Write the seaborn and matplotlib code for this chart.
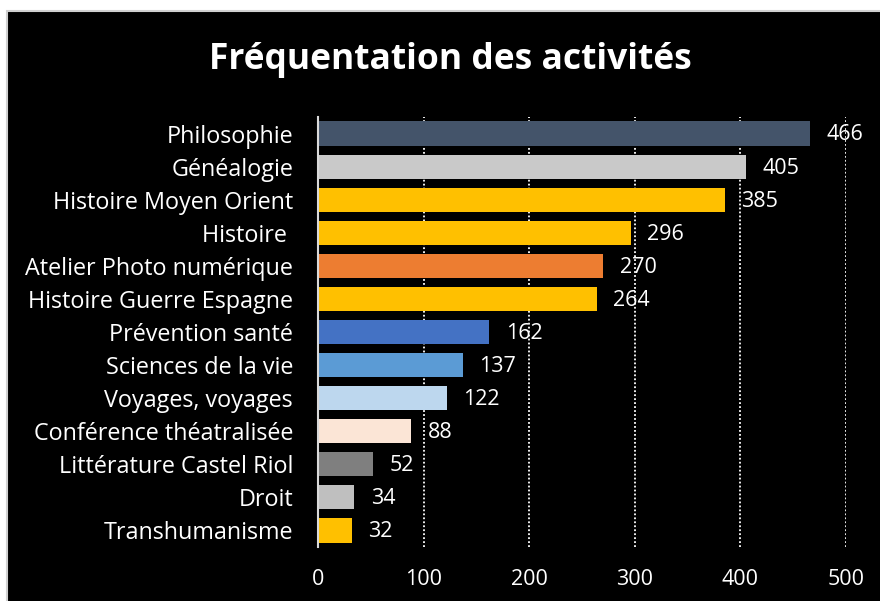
import matplotlib
matplotlib.use("Agg")
import matplotlib.pyplot as plt
import seaborn as sns
import pandas as pd
from matplotlib.patches import Rectangle

# data
activites = ["Philosophie", "Généalogie", "Histoire Moyen Orient", "Histoire ",
             "Atelier Photo numérique", "Histoire Guerre Espagne", "Prévention santé",
             "Sciences de la vie", "Voyages, voyages", "Conférence théatralisée",
             "Littérature Castel Riol", "Droit", "Transhumanisme"]
frequentation = [466, 405, 385, 296, 270, 264, 162, 137, 122, 88, 52, 34, 32]
couleurs = ["#44546A", "#C9C9C9", "#FFC000", "#FFC000", "#ED7D31", "#FFC000", "#4472C4",
            "#5B9BD5", "#BDD7EE", "#FBE5D6", "#7F7F7F", "#BFBFBF", "#FFC000"]
x_ticks = [0, 100, 200, 300, 400, 500]

df = pd.DataFrame({"activite": activites, "n": frequentation})

sns.set_style("dark")
plt.rcParams["font.family"] = ["Open Sans", "DejaVu Sans"]

W, H = 880, 601
fig = plt.figure(figsize=(W / 100, H / 100), dpi=100, facecolor="white")
# black chart area with a thin grey border (white margin top / left)
fig.patches.append(Rectangle((7 / W, -0.02), 1.05, 1 - 11 / H + 0.02,
                             transform=fig.transFigure, facecolor="black",
                             edgecolor="#D0D0D0", linewidth=1.5, zorder=-10))

ax = fig.add_axes([318 / W, 1 - 547 / H, (846 - 318) / W, (547 - 117) / H])
ax.set_facecolor("black")

sns.barplot(data=df, x="n", y="activite", hue="activite", palette=couleurs,
            legend=False, orient="h", width=0.73, saturation=1, linewidth=0,
            ax=ax, zorder=3)

ax.set_xlim(0, 500)
ax.set_xticks(x_ticks)
ax.set_xlabel("")
ax.set_ylabel("")
ax.grid(False)
for v in x_ticks[1:]:
    ax.axvline(v, color="white", linestyle=(0, (1, 1.2)), linewidth=1.3, zorder=1)

for s in ["top", "right", "bottom"]:
    ax.spines[s].set_visible(False)
ax.spines["left"].set_visible(True)
ax.spines["left"].set_color("#D9D9D9")
ax.spines["left"].set_linewidth(1.5)
ax.spines["left"].set_zorder(4)

ax.tick_params(axis="y", length=0, pad=18, labelsize=16.8, labelcolor="white")
ax.tick_params(axis="x", length=0, pad=16, labelsize=15.5, labelcolor="white")

for i, v in enumerate(frequentation):
    ax.annotate(str(v), (v, i), xytext=(12, -1), textcoords="offset points",
                ha="left", va="center", color="white", fontsize=15.5, zorder=5)

fig.text(450 / W, 1 - 60 / H, "Fréquentation des activités", ha="center", va="center",
         color="white", fontsize=25.5, fontweight="bold")

fig.savefig("out.png", dpi=100, facecolor=fig.get_facecolor())
